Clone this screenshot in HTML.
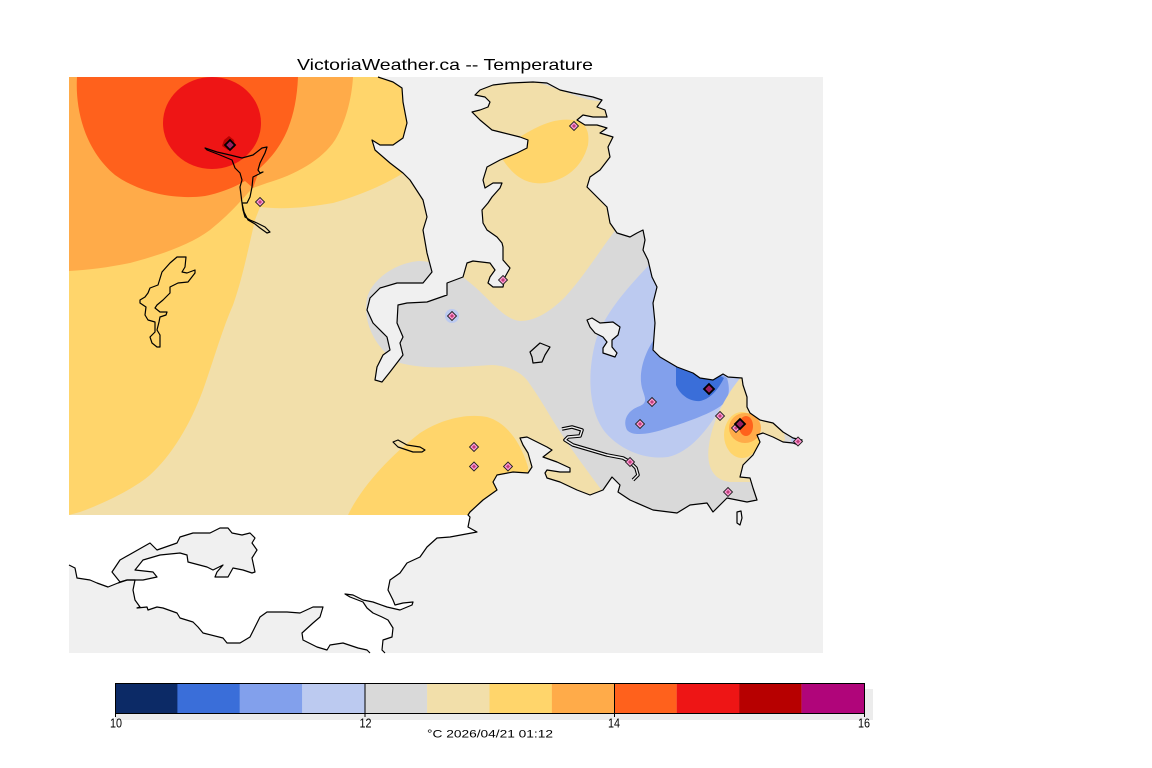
<!DOCTYPE html>
<html><head><meta charset="utf-8"><style>
html,body{margin:0;padding:0;background:#fff;}
svg{display:block;}
text{font-family:"Liberation Sans",sans-serif;}
</style></head><body>
<svg width="1152" height="768" viewBox="0 0 1152 768" xmlns="http://www.w3.org/2000/svg">
<rect width="1152" height="768" fill="#fff"/>
<text x="297" y="70" font-size="16" textLength="296" lengthAdjust="spacingAndGlyphs" fill="#000">VictoriaWeather.ca -- Temperature</text>

<!-- contour field -->
<g>
<rect x="69" y="77" width="754" height="438" fill="#f2dfaa"/>
<path d="M69,515 L80,512 C105,503 135,488 150,475 C172,455 190,425 203,390 C213,362 222,330 233,305 C242,280 248,250 255,220 L260,207 C285,210 310,207 333,203 C355,197 380,187 400,175 L440,150 L440,77 L69,77 Z" fill="#ffd56b"/>
<path d="M353,77 C352,95 347,120 335,140 C322,160 295,175 267,183 L253,188 C245,195 235,210 210,230 C190,245 160,255 130,263 C110,267 90,270 69,271 L69,77 Z" fill="#ffab49"/>
<path d="M77,77 C75,110 85,150 115,175 C140,193 175,200 205,196 C225,192 238,185 245,181 L253,188 L260,168 C280,150 296,125 298,77 Z" fill="#ff611c"/>
<ellipse cx="212" cy="123" rx="49" ry="46" fill="#ee1515"/>
<path d="M224,140 L229,136 L234,140 L235,147 L228,150 L222,146 Z" fill="#b70000"/>
<path d="M503,160 C515,178 528,185 545,183 C565,180 582,168 588,145 C590,130 585,122 573,120 C555,118 540,125 523,135 C512,142 505,150 503,160 Z" fill="#ffd56b"/>
<path d="M530,77 L535,82 C550,85 570,95 590,100 L630,105 L630,77 Z" fill="#d9d9d9"/>
<path d="M348,515 C360,490 385,460 420,433 C440,420 465,413 487,417 C505,422 520,440 528,467 L530,515 Z" fill="#ffd56b"/>
<path d="M420,261 C398,262 372,278 367,298 C362,325 378,352 400,363 C430,371 470,366 492,365 C510,366 520,372 527,380 C540,398 548,413 557,427 C570,448 588,472 603,492 L640,515 L823,515 L823,200 L640,205 L617,228 C600,250 585,275 565,297 C550,312 535,321 520,321 C505,320 490,300 475,287 C465,278 445,262 420,261 Z" fill="#d9d9d9"/>
<path d="M652,262 C630,285 605,312 596,340 C587,372 588,410 605,432 C620,450 645,460 668,457 C690,452 708,430 722,405 L745,372 L700,330 Z" fill="#bccaf0"/>
<path d="M655,338 C645,352 638,372 642,388 C645,398 648,402 640,406 C628,410 622,420 627,430 C633,437 650,434 668,428 C690,421 712,413 722,405 C730,398 730,388 727,378 L700,360 Z" fill="#82a0ec"/>
<path d="M676,362 L676,385 C680,395 690,402 700,401 C710,399 718,390 724,378 L700,365 Z" fill="#3a6ed9"/>
<path d="M742,376 C728,392 713,418 709,445 C706,465 712,480 730,482 L755,482 L770,455 L785,440 L783,425 C770,415 760,405 752,392 Z" fill="#f2dfaa"/>
<ellipse cx="742" cy="435" rx="18" ry="23" fill="#ffd56b"/>
<ellipse cx="745" cy="428" rx="16" ry="15" fill="#ffab49"/>
<ellipse cx="746" cy="426" rx="7" ry="10" fill="#ff611c"/>
<ellipse cx="798" cy="440" rx="7" ry="5" fill="#bccaf0"/>
<circle cx="452" cy="316" r="7" fill="#bccaf0"/>
</g>

<!-- sea mask -->
<path fill="#f0f0f0" fill-rule="evenodd" d="M69,77 H823 V653 H69 Z M69,77 L378,77 L393,82 402,88 403,102 407,123 403,138 393,145 380,145 372,140 375,150 390,163 403,173 410,180 423,200 427,217 423,230 427,253 432,272 423,283 397,283 380,288 370,298 367,310 373,323 387,337 390,350 383,355 377,367 375,380 382,382 390,372 403,355 400,343 403,337 397,323 398,305 407,303 427,302 447,295 447,283 463,277 467,263 473,261 490,263 495,270 490,277 488,283 493,287 503,287 505,277 510,268 503,260 503,247 502,243 497,237 487,230 483,223 482,210 488,203 492,197 500,188 502,183 493,183 485,188 483,180 487,167 500,160 517,153 527,148 528,140 520,137 500,132 492,130 480,120 472,112 480,110 488,107 490,102 485,97 475,95 480,90 493,85 510,83 533,82 547,83 560,90 573,93 593,97 602,100 597,107 605,110 607,117 593,117 583,115 577,120 585,125 597,125 607,128 600,133 613,137 608,147 610,157 600,170 590,177 587,187 600,200 607,207 610,223 617,233 630,237 637,233 643,230 645,240 643,250 648,260 652,277 657,287 653,303 655,323 653,350 660,357 677,367 693,373 700,378 713,380 723,374 728,377 742,378 743,385 747,397 747,407 750,413 760,420 773,423 783,432 793,438 802,440 798,445 793,443 783,442 773,437 763,433 757,435 760,442 753,455 743,465 740,477 750,478 753,488 757,500 747,502 727,498 723,502 713,512 707,503 690,505 677,513 653,510 630,500 618,492 620,485 612,477 603,490 590,495 577,490 560,482 547,478 545,473 547,470 560,472 570,472 570,468 557,462 543,457 552,450 547,447 537,442 527,437 520,438 523,445 528,453 532,467 528,473 513,472 497,475 493,482 497,490 483,500 470,512 468,515 L69,515 Z"/>

<!-- south land (white) -->
<path fill="#fff" d="M69,515 L468,515 470,517 468,527 477,532 450,537 437,538 427,547 420,557 407,563 400,573 390,580 388,590 393,600 395,605 403,603 413,602 412,605 400,610 387,607 373,602 363,600 353,595 345,594 350,597 363,602 367,608 373,613 382,617 388,620 393,628 392,637 383,640 382,650 385,653 370,653 367,650 358,648 343,643 330,645 327,650 317,647 303,640 302,633 313,623 320,617 323,607 313,607 300,613 287,612 280,612 267,612 260,617 255,627 250,637 240,643 227,643 223,638 203,633 198,627 193,622 180,618 177,613 163,608 157,607 148,610 147,607 137,608 140,607 135,600 133,590 135,580 127,580 118,583 108,587 97,583 90,580 77,578 75,568 69,565 Z"/>
<path fill="#f0f0f0" stroke="#000" stroke-width="1.2" stroke-linejoin="round" d="M112,572 L120,560 150,543 157,550 177,543 180,537 193,533 210,533 220,528 228,528 232,533 242,535 250,533 255,538 252,543 257,550 252,558 255,572 252,573 243,570 233,568 228,577 215,577 217,572 223,565 213,570 207,567 188,562 187,555 180,553 160,555 143,560 135,570 153,572 157,577 143,580 127,580 120,582 Z"/>

<!-- coastlines -->
<g fill="none" stroke="#000" stroke-width="1.2" stroke-linejoin="round">
<polyline points="378,77 393,82 402,88 403,102 407,123 403,138 393,145 380,145 372,140 375,150 390,163 403,173 410,180 423,200 427,217 423,230 427,253 432,272 423,283 397,283 380,288 370,298 367,310 373,323 387,337 390,350 383,355 377,367 375,380 382,382 390,372 403,355 400,343 403,337 397,323 398,305 407,303 427,302 447,295 447,283 463,277 467,263 473,261 490,263 495,270 490,277 488,283 493,287 503,287 505,277 510,268 503,260 503,247 502,243 497,237 487,230 483,223 482,210 488,203 492,197 500,188 502,183 493,183 485,188 483,180 487,167 500,160 517,153 527,148 528,140 520,137 500,132 492,130 480,120 472,112 480,110 488,107 490,102 485,97 475,95 480,90 493,85 510,83 533,82 547,83 560,90 573,93 593,97 602,100 597,107 605,110 607,117 593,117 583,115 577,120 585,125 597,125 607,128 600,133 613,137 608,147 610,157 600,170 590,177 587,187 600,200 607,207 610,223 617,233 630,237 637,233 643,230 645,240 643,250 648,260 652,277 657,287 653,303 655,323 653,350 660,357 677,367 693,373 700,378 713,380 723,374 728,377 742,378 743,385 747,397 747,407 750,413 760,420 773,423 783,432 793,438 802,440 798,445 793,443 783,442 773,437 763,433 757,435 760,442 753,455 743,465 740,477 750,478 753,488 757,500 747,502 727,498 723,502 713,512 707,503 690,505 677,513 653,510 630,500 618,492 620,485 612,477 603,490 590,495 577,490 560,482 547,478 545,473 547,470 560,472 570,472 570,468 557,462 543,457 552,450 547,447 537,442 527,437 520,438 523,445 528,453 532,467 528,473 513,472 497,475 493,482 497,490 483,500 470,512 468,515 470,517 468,527 477,532 450,537 437,538 427,547 420,557 407,563 400,573 390,580 388,590 393,600 395,605 403,603 413,602 412,605 400,610 387,607 373,602 363,600 353,595 345,594 350,597 363,602 367,608 373,613 382,617 388,620 393,628 392,637 383,640 382,650 385,653"/>
<polyline points="370,653 367,650 358,648 343,643 330,645 327,650 317,647 303,640 302,633 313,623 320,617 323,607 313,607 300,613 287,612 280,612 267,612 260,617 255,627 250,637 240,643 227,643 223,638 203,633 198,627 193,622 180,618 177,613 163,608 157,607 148,610 147,607 137,608 140,607 135,600 133,590 135,580 127,580 118,583 108,587 97,583 90,580 77,578 75,568 69,565"/>
<!-- inlet outline top-left -->
<path d="M205,148 L217,152 230,155 242,158 253,155 262,148 267,147 265,153 260,163 258,170 260,173 263,172 253,177 252,187 250,197 247,203 242,203 243,210 245,217 250,220 257,223 265,227 270,232 267,233 260,228 255,224 248,220 244,212 242,203 240,187 242,180 240,173 235,168 232,160 220,155 207,150 Z"/>
<!-- lakes -->
<path d="M177,257 L186,257 185,267 182,272 187,273 195,270 195,273 188,282 178,283 170,287 170,293 163,300 157,305 155,308 160,312 167,312 166,315 160,317 159,322 157,330 160,335 160,347 157,347 152,343 150,337 155,332 155,322 148,320 145,315 146,307 140,303 140,300 145,297 148,293 150,288 158,285 162,272 170,263 Z"/>
<path d="M393,442 L398,440 407,445 420,447 425,450 422,452 413,452 407,450 398,447 Z"/>
<path d="M530,352 L540,343 550,347 545,355 542,362 533,363 532,357 Z"/>
<path fill="#f0f0f0" d="M587,320 L592,318 600,323 613,322 620,327 618,335 612,340 612,347 617,353 615,357 603,353 603,348 607,342 603,337 595,333 590,327 Z"/>
<path d="M737,512 L741,511 742,518 740,525 737,523 Z"/>
</g>
<!-- Gorge waterway -->
<polyline points="562,429 572,427 582,430 580,436 568,437 565,440 573,445 590,450 607,455 623,458 630,462 636,468 638,475 633,480" fill="none" stroke="#000" stroke-width="3.6" stroke-linejoin="round"/>
<polyline points="562,429 572,427 582,430 580,436 568,437 565,440 573,445 590,450 607,455 623,458 630,462 636,468 638,475 633,480" fill="none" stroke="#f0f0f0" stroke-width="1.4" stroke-linejoin="round"/>

<!-- stations -->
<g stroke="#222" stroke-width="0.9">
<g fill="#ff9ad5">
<polygon points="260,197.5 264.5,202 260,206.5 255.5,202"/>
<polygon points="574,121.5 578.5,126 574,130.5 569.5,126"/>
<polygon points="503,275.5 507.5,280 503,284.5 498.5,280"/>
<polygon points="452,311.5 456.5,316 452,320.5 447.5,316"/>
<polygon points="652,397.5 656.5,402 652,406.5 647.5,402"/>
<polygon points="640,419.5 644.5,424 640,428.5 635.5,424"/>
<polygon points="720,411.5 724.5,416 720,420.5 715.5,416"/>
<polygon points="736,423.5 740.5,428 736,432.5 731.5,428"/>
<polygon points="798,437 802.5,441.5 798,446 793.5,441.5"/>
<polygon points="728,487.5 732.5,492 728,496.5 723.5,492"/>
<polygon points="474,442.5 478.5,447 474,451.5 469.5,447"/>
<polygon points="474,462 478.5,466.5 474,471 469.5,466.5"/>
<polygon points="508,462 512.5,466.5 508,471 503.5,466.5"/>
<polygon points="630,457.5 634.5,462 630,466.5 625.5,462"/>
</g>
<g fill="#c0407a" stroke="none">
<polygon points="260,200 262,202 260,204 258,202"/>
<polygon points="574,124 576,126 574,128 572,126"/>
<polygon points="503,278 505,280 503,282 501,280"/>
<polygon points="452,314 454,316 452,318 450,316"/>
<polygon points="652,400 654,402 652,404 650,402"/>
<polygon points="640,422 642,424 640,426 638,424"/>
<polygon points="720,414 722,416 720,418 718,416"/>
<polygon points="736,426 738,428 736,430 734,428"/>
<polygon points="798,439.5 800,441.5 798,443.5 796,441.5"/>
<polygon points="728,490 730,492 728,494 726,492"/>
<polygon points="474,445 476,447 474,449 472,447"/>
<polygon points="474,464.5 476,466.5 474,468.5 472,466.5"/>
<polygon points="508,464.5 510,466.5 508,468.5 506,466.5"/>
<polygon points="630,460 632,462 630,464 628,462"/>
</g>
<g fill="#9a2060" stroke="#000" stroke-width="1.8">
<polygon points="230,140 235,145 230,150 225,145"/>
<polygon points="709,384 714,389 709,394 704,389"/>
<polygon points="740,419 745,424 740,429 735,424"/>
</g>
</g>

<!-- colorbar -->
<rect x="121" y="689" width="752" height="31" fill="#ececec"/>
<rect x="115" y="713" width="10" height="7" fill="#ececec"/>
<g stroke="none">
<rect x="115" y="683" width="62.5" height="30" fill="#0c2a66"/>
<rect x="177.4" y="683" width="62.5" height="30" fill="#3a6ed9"/>
<rect x="239.8" y="683" width="62.5" height="30" fill="#82a0ec"/>
<rect x="302.2" y="683" width="62.5" height="30" fill="#bccaf0"/>
<rect x="364.7" y="683" width="62.5" height="30" fill="#d9d9d9"/>
<rect x="427.1" y="683" width="62.5" height="30" fill="#f2dfaa"/>
<rect x="489.5" y="683" width="62.5" height="30" fill="#ffd56b"/>
<rect x="551.9" y="683" width="62.5" height="30" fill="#ffab49"/>
<rect x="614.3" y="683" width="62.5" height="30" fill="#ff611c"/>
<rect x="676.7" y="683" width="62.5" height="30" fill="#ee1515"/>
<rect x="739.1" y="683" width="62.5" height="30" fill="#b70000"/>
<rect x="801.6" y="683" width="62.5" height="30" fill="#b0057a"/>
</g>
<rect x="115.5" y="683.5" width="749" height="30" fill="none" stroke="#000" stroke-width="1"/>
<g stroke="#000" stroke-width="1">
<line x1="365" y1="683" x2="365" y2="717"/>
<line x1="614.5" y1="683" x2="614.5" y2="717"/>
<line x1="115.5" y1="713" x2="115.5" y2="717"/>
<line x1="864.5" y1="713" x2="864.5" y2="717"/>
</g>
<g font-size="12.5" fill="#000" text-anchor="middle">
<text x="116" y="727.5" textLength="12" lengthAdjust="spacingAndGlyphs">10</text>
<text x="365.5" y="727.5" textLength="12" lengthAdjust="spacingAndGlyphs">12</text>
<text x="614" y="727.5" textLength="12" lengthAdjust="spacingAndGlyphs">14</text>
<text x="864" y="727.5" textLength="12" lengthAdjust="spacingAndGlyphs">16</text>
</g>
<text x="427" y="737.5" font-size="11" textLength="126" lengthAdjust="spacingAndGlyphs" fill="#000">°C  2026/04/21 01:12</text>
</svg>
</body></html>
